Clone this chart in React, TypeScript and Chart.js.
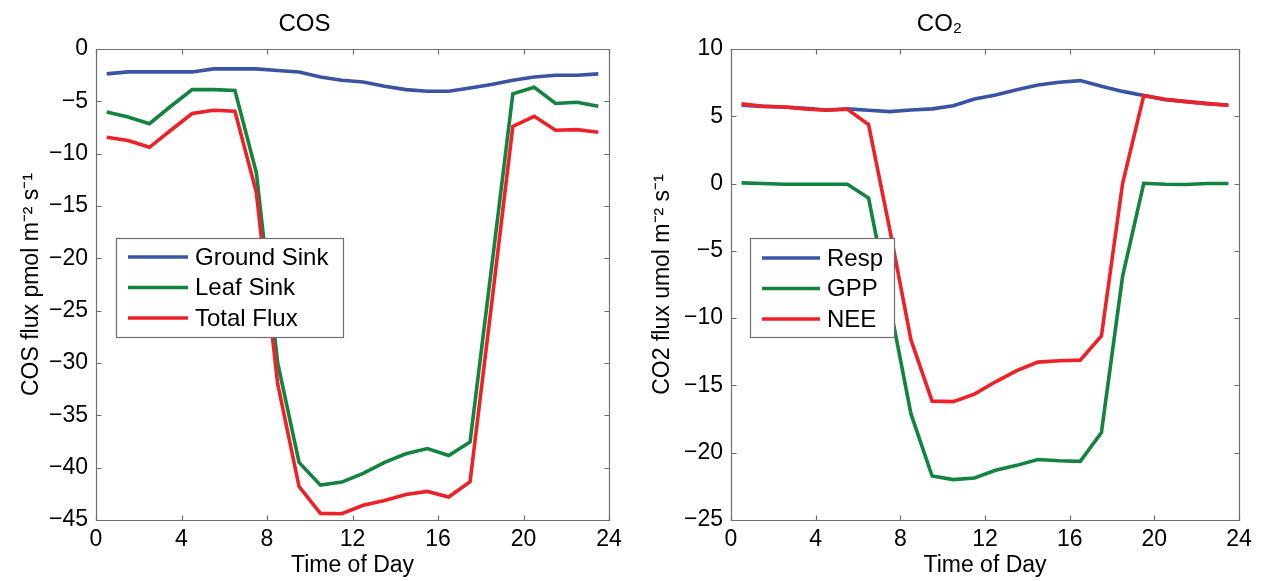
import React, { useEffect, useRef } from "react";
import { Chart, registerables } from "chart.js";

Chart.register(...registerables);

// ---------- data ----------
const hours = [0.5, 1.5, 2.5, 3.5, 4.5, 5.5, 6.5, 7.5, 8.5, 9.5, 10.5, 11.5, 12.5, 13.5, 14.5, 15.5, 16.5, 17.5, 18.5, 19.5, 20.5, 21.5, 22.5, 23.5];

const groundSink = [-2.38, -2.19, -2.19, -2.19, -2.19, -1.9, -1.9, -1.9, -2.05, -2.19, -2.67, -2.99, -3.15, -3.56, -3.88, -4.04, -4.04, -3.72, -3.4, -2.99, -2.67, -2.51, -2.51, -2.38];
const leafSink = [-6.01, -6.49, -7.13, -5.47, -3.88, -3.88, -3.97, -11.8, -30.0, -39.5, -41.67, -41.38, -40.55, -39.5, -38.67, -38.17, -38.84, -37.55, -21.0, -4.29, -3.65, -5.21, -5.09, -5.47];
const totalFlux = [-8.43, -8.75, -9.39, -7.76, -6.17, -5.85, -5.95, -13.7, -32.0, -41.8, -44.37, -44.4, -43.6, -43.13, -42.56, -42.27, -42.8, -41.35, -24.5, -7.4, -6.43, -7.76, -7.7, -7.95];

const resp = [5.82, 5.74, 5.69, 5.59, 5.47, 5.55, 5.45, 5.35, 5.47, 5.55, 5.79, 6.29, 6.58, 6.98, 7.33, 7.53, 7.65, 7.23, 6.85, 6.54, 6.24, 6.09, 5.94, 5.82];
const gpp = [0.05, 0.0, -0.05, -0.05, -0.05, -0.05, -1.08, -9.0, -17.1, -21.73, -22.0, -21.88, -21.3, -20.94, -20.5, -20.6, -20.64, -18.5, -6.9, 0.02, -0.05, -0.07, 0.0, 0.0];
const nee = [5.92, 5.75, 5.69, 5.55, 5.45, 5.52, 4.38, -3.4, -11.6, -16.17, -16.2, -15.65, -14.73, -13.9, -13.27, -13.17, -13.12, -11.33, 0.0, 6.54, 6.27, 6.09, 5.94, 5.82];

const xMin = 0;
const xMax = 24;
const xStep = 4;
const cosYMin = -45;
const cosYMax = 0;
const co2YMin = -25;
const co2YMax = 10;
const yStep = 5;

const cosLabels = ["Ground Sink", "Leaf Sink", "Total Flux"];
const co2Labels = ["Resp", "GPP", "NEE"];

// ---------- styles ----------
const BLUE = "#3a54a5";
const GREEN = "#12843f";
const RED = "#ee2128";
const FONT = "'Liberation Sans', Arial, Helvetica, sans-serif";
const AXIS_GRAY = "#6e6e6e";

const fmt = (v: number) => (v < 0 ? "\u2212" + Math.abs(v) : String(v));

const framePlugin = {
  id: "matlabFrame",
  afterDraw(chart: any) {
    const { ctx, chartArea: a, scales } = chart;
    ctx.save();
    ctx.strokeStyle = AXIS_GRAY;
    ctx.lineWidth = 1.2;
    const L = Math.round(a.left) + 0.5;
    const R = Math.round(a.right) + 0.5;
    const T = Math.round(a.top) + 0.5;
    const B = Math.round(a.bottom) + 0.5;
    ctx.beginPath();
    ctx.rect(L, T, R - L, B - T);
    ctx.stroke();
    const tl = 5;
    ctx.beginPath();
    scales.x.ticks.forEach((t: any) => {
      const px = Math.round(scales.x.getPixelForValue(t.value)) + 0.5;
      ctx.moveTo(px, B);
      ctx.lineTo(px, B - tl);
      ctx.moveTo(px, T);
      ctx.lineTo(px, T + tl);
    });
    scales.y.ticks.forEach((t: any) => {
      const py = Math.round(scales.y.getPixelForValue(t.value)) + 0.5;
      ctx.moveTo(L, py);
      ctx.lineTo(L + tl, py);
      ctx.moveTo(R, py);
      ctx.lineTo(R - tl, py);
    });
    ctx.stroke();
    ctx.restore();
  },
};

const boxLegendPlugin = {
  id: "boxLegend",
  afterDraw(chart: any, _args: any, opts: any) {
    if (!opts || !opts.display) return;
    const { ctx, chartArea: a } = chart;
    const x = a.left + opts.dx;
    const y = a.top + opts.dy;
    ctx.save();
    ctx.fillStyle = "#ffffff";
    ctx.fillRect(x, y, opts.w, opts.h);
    ctx.strokeStyle = AXIS_GRAY;
    ctx.lineWidth = 1.2;
    ctx.strokeRect(Math.round(x) + 0.5, Math.round(y) + 0.5, opts.w, opts.h);
    ctx.font = `${opts.fontSize}px ${FONT}`;
    ctx.textBaseline = "middle";
    ctx.textAlign = "left";
    chart.data.datasets.forEach((ds: any, i: number) => {
      const ry = y + opts.rowTop + i * opts.rowGap;
      ctx.strokeStyle = ds.borderColor;
      ctx.lineWidth = ds.borderWidth;
      ctx.beginPath();
      ctx.moveTo(x + opts.lineStart, ry);
      ctx.lineTo(x + opts.lineEnd, ry);
      ctx.stroke();
      ctx.fillStyle = "#000";
      ctx.fillText(ds.label, x + opts.textStart, ry + 1);
    });
    ctx.restore();
  },
};

type PanelProps = {
  width: number;
  height: number;
  left: number;
  title: string;
  yTitle: string;
  yMin: number;
  yMax: number;
  series: number[][];
  labels: string[];
  yAxisWidth: number;
  padRight: number;
  yTitlePad: number;
  legend: any;
};

function Panel(p: PanelProps) {
  const ref = useRef<HTMLCanvasElement | null>(null);
  useEffect(() => {
    if (!ref.current) return;
    const colors = [BLUE, GREEN, RED];
    const orders = [2, 1, 0];
    const chart = new Chart(ref.current, {
      type: "line",
      data: {
        datasets: p.series.map((s, i) => ({
          label: p.labels[i],
          data: hours.map((h, k) => ({ x: h, y: s[k] })),
          borderColor: colors[i],
          backgroundColor: colors[i],
          borderWidth: 3.6,
          pointRadius: 0,
          tension: 0,
          order: orders[i],
          borderJoinStyle: "miter" as const,
        })),
      },
      options: {
        responsive: false,
        animation: false,
        devicePixelRatio: 1,
        layout: { padding: { left: 0, right: p.padRight, top: 0, bottom: 0 } },
        plugins: {
          legend: { display: false },
          tooltip: { enabled: false },
          title: {
            display: true,
            text: p.title,
            color: "#000",
            font: { family: FONT, size: 24, weight: "normal" as any },
            padding: { top: 10, bottom: 10.2 },
          },
          boxLegend: p.legend,
        } as any,
        scales: {
          x: {
            type: "linear",
            min: xMin,
            max: xMax,
            grid: { display: false, drawTicks: false },
            border: { display: false },
            ticks: {
              stepSize: xStep,
              color: "#000",
              padding: 6,
              font: { family: FONT, size: 23 },
              callback: (v: any) => fmt(Number(v)),
            },
            title: {
              display: true,
              text: "Time of Day",
              color: "#000",
              font: { family: FONT, size: 23 },
              padding: { top: 0, bottom: 2 },
            },
            afterFit: (scale: any) => {
              scale.height = 61;
            },
          },
          y: {
            type: "linear",
            min: p.yMin,
            max: p.yMax,
            grid: { display: false, drawTicks: false },
            border: { display: false },
            ticks: {
              stepSize: yStep,
              color: "#000",
              padding: 8,
              font: { family: FONT, size: 23 },
              callback: (v: any) => fmt(Number(v)),
            },
            title: {
              display: true,
              text: p.yTitle,
              color: "#000",
              font: { family: FONT, size: 23 },
              padding: { top: p.yTitlePad, bottom: 0 },
            },
            afterFit: (scale: any) => {
              scale.width = p.yAxisWidth;
            },
          },
        },
      },
      plugins: [framePlugin, boxLegendPlugin],
    } as any);
    return () => chart.destroy();
  }, []);
  return (
    <canvas
      ref={ref}
      width={p.width}
      height={p.height}
      style={{ position: "absolute", left: p.left, top: 0, width: p.width, height: p.height }}
    />
  );
}

export default function App() {
  return (
    <div style={{ position: "absolute", left: 0, top: 0, width: 1272, height: 581, background: "#fff" }}>
      <Panel
        width={640}
        height={581}
        left={0}
        title="COS"
        yTitle="COS flux pmol m⁻² s⁻¹"
        yMin={cosYMin}
        yMax={cosYMax}
        series={[groundSink, leafSink, totalFlux]}
        labels={cosLabels}
        yAxisWidth={96}
        padRight={31}
        yTitlePad={18}
        legend={{ display: true, dx: 20, dy: 189, w: 227, h: 99, rowTop: 19, rowGap: 30.5, lineStart: 12, lineEnd: 72, textStart: 79, fontSize: 24 }}
      />
      <Panel
        width={632}
        height={581}
        left={640}
        title="CO₂"
        yTitle="CO2 flux umol m⁻² s⁻¹"
        yMin={co2YMin}
        yMax={co2YMax}
        series={[resp, gpp, nee]}
        labels={co2Labels}
        yAxisWidth={91}
        padRight={33}
        yTitlePad={9}
        legend={{ display: true, dx: 19, dy: 189, w: 144, h: 99, rowTop: 20, rowGap: 30.5, lineStart: 12, lineEnd: 70, textStart: 77, fontSize: 24 }}
      />
    </div>
  );
}
